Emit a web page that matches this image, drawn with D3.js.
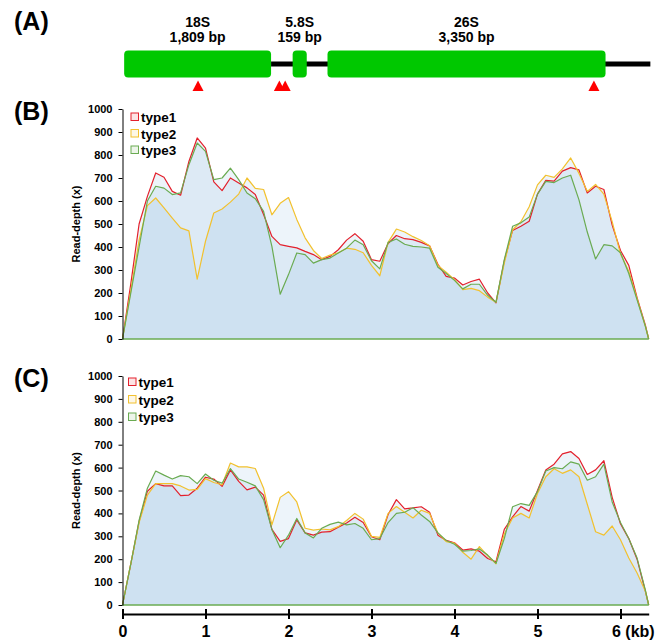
<!DOCTYPE html>
<html>
<head>
<meta charset="utf-8">
<script src="https://cdn.jsdelivr.net/npm/d3@7"></script>
<style>
  body { margin: 0; background: #fff; }
  text { font-family: "Liberation Sans", Arial, sans-serif; font-weight: bold; fill: #000; }
</style>
</head>
<body>
<div id="chart"></div>
<script>
// positions along the rDNA unit (kb)
var kb = [0, 0.1, 0.2, 0.3, 0.4, 0.5, 0.6, 0.7, 0.8, 0.9,
  1.0, 1.1, 1.2, 1.3, 1.4, 1.5, 1.6, 1.7, 1.8, 1.9,
  2.0, 2.1, 2.2, 2.3, 2.4, 2.5, 2.6, 2.7, 2.8, 2.9,
  3.0, 3.1, 3.2, 3.3, 3.4, 3.5, 3.6, 3.7, 3.8, 3.9,
  4.0, 4.1, 4.2, 4.3, 4.4, 4.5, 4.6, 4.7, 4.8, 4.9,
  5.0, 5.1, 5.2, 5.3, 5.4, 5.5, 5.6, 5.7, 5.8, 5.9,
  6.0, 6.1, 6.2, 6.3, 6.34];

// panel B read-depth
var bType1 = [0, 240, 500, 620, 722, 703, 642, 625, 772, 874,
  830, 683, 645, 700, 678, 657, 628, 541, 446, 410,
  403, 396, 381, 367, 345, 359, 388, 430, 458, 425,
  345, 338, 415, 450, 436, 432, 420, 405, 325, 272,
  265, 235, 250, 260, 200, 157, 340, 472, 490, 512,
  630, 690, 686, 730, 745, 735, 635, 664, 650, 495,
  385, 320, 180, 60, 0];
var bType2 = [0, 210, 430, 580, 613, 570, 526, 483, 470, 260,
  425, 548, 565, 595, 630, 700, 655, 650, 540, 590,
  615, 520, 440, 385, 350, 365, 375, 395, 390, 375,
  320, 275, 420, 478, 465, 445, 428, 405, 320, 290,
  258, 215, 220, 210, 182, 160, 330, 475, 510, 575,
  670, 712, 703, 740, 787, 720, 642, 672, 630, 510,
  370, 295, 175, 55, 0];
var bType3 = [0, 200, 400, 600, 664, 656, 628, 635, 758, 852,
  816, 693, 700, 743, 693, 635, 610, 555, 403, 195,
  280, 374, 367, 330, 345, 352, 374, 395, 430, 410,
  340, 305, 420, 435, 412, 403, 400, 395, 312, 285,
  255, 218, 238, 238, 190, 160, 345, 490, 505, 530,
  630, 685, 680, 700, 712, 605, 465, 348, 410, 405,
  375, 285, 170, 55, 0];

// panel C read-depth
var cType1 = [0, 180, 365, 497, 530, 520, 520, 478, 480, 510,
  558, 550, 518, 590, 540, 503, 515, 480, 330, 278,
  290, 372, 315, 305, 318, 320, 340, 358, 383, 360,
  298, 285, 395, 460, 420, 424, 429, 405, 305, 282,
  272, 240, 245, 235, 203, 189, 330, 385, 430, 410,
  500, 590, 615, 660, 670, 640, 570, 590, 630, 470,
  355, 290, 200, 60, 0];
var cType2 = [0, 180, 360, 480, 530, 530, 530, 520, 502, 505,
  552, 535, 525, 620, 603, 603, 596, 510, 350, 470,
  495, 450, 335, 327, 332, 328, 342, 369, 400, 375,
  300, 295, 400, 430, 405, 380, 414, 400, 315, 277,
  270, 230, 200, 255, 215, 180, 310, 380, 400, 380,
  487, 560, 595, 575, 590, 560, 440, 320, 305, 345,
  285, 205, 140, 60, 0];
var cType3 = [0, 180, 370, 510, 585, 567, 550, 565, 560, 530,
  572, 545, 532, 596, 550, 536, 520, 460, 330, 250,
  305, 378, 315, 293, 335, 352, 362, 350, 356, 335,
  285, 290, 360, 400, 405, 425, 393, 365, 315, 282,
  265, 235, 238, 245, 218, 182, 290, 429, 443, 435,
  495, 585, 600, 595, 625, 615, 545, 560, 615, 450,
  360, 290, 205, 65, 0];

var seriesNames = ["type1", "type2", "type3"];
var seriesColors = ["#e3202c", "#f2c12e", "#6aab52"];
var yTicks = [0, 100, 200, 300, 400, 500, 600, 700, 800, 900, 1000];
var xTicks = [0, 1, 2, 3, 4, 5, 6];

// gene model (panel A)
var geneNames = ["18S", "5.8S", "26S"];
var geneSizes = ["1,809 bp", "159 bp", "3,350 bp"];
var geneStart = [0.02, 2.05, 2.47];
var geneEnd = [1.79, 2.22, 5.82];
var spacerEnd = 6.36;
var markers = [0.91, 1.89, 1.96, 5.68];

var svgWidth = 656;
var svgHeight = 642;

var svg = d3.select("#chart").append("svg")
    .attr("width", svgWidth)
    .attr("height", svgHeight);

var x = d3.scaleLinear().domain([0, 6.34]).range([122.5, 648.7]);

// panel letters
[["(A)", 30], ["(B)", 120], ["(C)", 387]].forEach(function(p) {
  svg.append("text")
    .attr("x", 14)
    .attr("y", p[1])
    .attr("font-size", 25)
    .text(p[0]);
});

// ---- panel A ----
var gA = svg.append("g");
gA.append("line")
    .attr("x1", x(geneEnd[0]))
    .attr("x2", x(spacerEnd))
    .attr("y1", 64).attr("y2", 64)
    .attr("stroke", "#000")
    .attr("stroke-width", 5);

geneNames.forEach(function(name, i) {
  var x0 = x(geneStart[i]), x1 = x(geneEnd[i]);
  gA.append("rect")
    .attr("x", x0).attr("y", 50.5)
    .attr("width", x1 - x0).attr("height", 27)
    .attr("rx", 4).attr("ry", 4)
    .attr("fill", "#00c800");
  gA.append("text")
    .attr("x", (x0 + x1) / 2).attr("y", 27)
    .attr("text-anchor", "middle")
    .attr("font-size", 14)
    .text(name);
  gA.append("text")
    .attr("x", (x0 + x1) / 2).attr("y", 42)
    .attr("text-anchor", "middle")
    .attr("font-size", 14)
    .text(geneSizes[i]);
});

gA.selectAll("path.marker")
  .data(markers)
  .enter().append("path")
    .attr("class", "marker")
    .attr("d", d => `M${x(d)},80.5 L${x(d) + 5.5},91 L${x(d) - 5.5},91 Z`)
    .attr("fill", "#ff0000");

// ---- panels B and C ----
function drawPanel(top, bottom, values, legendX, legendY, legendStep, showX) {
  var y = d3.scaleLinear().domain([0, 1000]).range([bottom, top]);
  var g = svg.append("g");

  var area = d3.area()
      .x((d, i) => x(kb[i]))
      .y0(y(0))
      .y1(d => y(d));
  var line = d3.line()
      .x((d, i) => x(kb[i]))
      .y(d => y(d));

  values.forEach(function(v) {
    g.append("path")
      .attr("d", area(v))
      .attr("fill", "#5b9bd5")
      .attr("fill-opacity", 0.11);
  });
  values.forEach(function(v, i) {
    g.append("path")
      .attr("d", line(v))
      .attr("fill", "none")
      .attr("stroke", seriesColors[i])
      .attr("stroke-width", 1.2)
      .attr("stroke-linejoin", "round");
  });

  // green base line at zero
  g.append("line")
    .attr("x1", x(0)).attr("x2", x(6.34))
    .attr("y1", y(0)).attr("y2", y(0))
    .attr("stroke", seriesColors[2])
    .attr("stroke-width", 1.5);

  var leftAxis = d3.axisLeft(y)
      .tickValues(yTicks)
      .tickFormat(d3.format("d"))
      .tickSize(4)
      .tickSizeOuter(0)
      .tickPadding(6);
  var ya = g.append("g")
      .attr("transform", `translate(${x(0)},0)`)
      .call(leftAxis);
  ya.selectAll("text").attr("font-size", 11).attr("font-family", null);
  ya.select(".domain").attr("stroke", "#000");

  g.append("text")
    .attr("transform", `translate(80, ${(top + bottom) / 2}) rotate(-90)`)
    .attr("text-anchor", "middle")
    .attr("font-size", 11)
    .text("Read-depth (x)");

  // legend
  seriesNames.forEach(function(name, i) {
    g.append("rect")
      .attr("x", legendX).attr("y", legendY + i * legendStep)
      .attr("width", 7.5).attr("height", 7.5)
      .attr("fill", seriesColors[i]).attr("fill-opacity", 0.12)
      .attr("stroke", seriesColors[i]).attr("stroke-width", 1);
    g.append("text")
      .attr("x", legendX + 10).attr("y", legendY + i * legendStep + 9)
      .attr("font-size", 13.5)
      .text(name);
  });

  if (showX) {
    var bottomAxis = d3.axisBottom(x)
        .tickValues(xTicks)
        .tickSize(5)
        .tickSizeOuter(0)
        .tickPadding(7)
        .tickFormat(d => d);
    var xa = g.append("g")
        .attr("transform", "translate(0,614)")
        .call(bottomAxis);
    xa.select(".domain").attr("stroke", "#000").attr("stroke-width", 2);
    xa.selectAll(".tick line").attr("y1", -5).attr("stroke-width", 2);
    xa.selectAll("text").attr("font-size", 16).attr("font-family", null);
    xa.selectAll(".tick").filter(d => d === 6).select("text")
      .attr("text-anchor", "start")
      .attr("x", -9)
      .text("6 (kb)");
  }
}

drawPanel(109, 339, [bType1, bType2, bType3], 131, 113, 16.5, false);
drawPanel(376, 605, [cType1, cType2, cType3], 128.5, 378, 17.5, true);
</script>
</body>
</html>
